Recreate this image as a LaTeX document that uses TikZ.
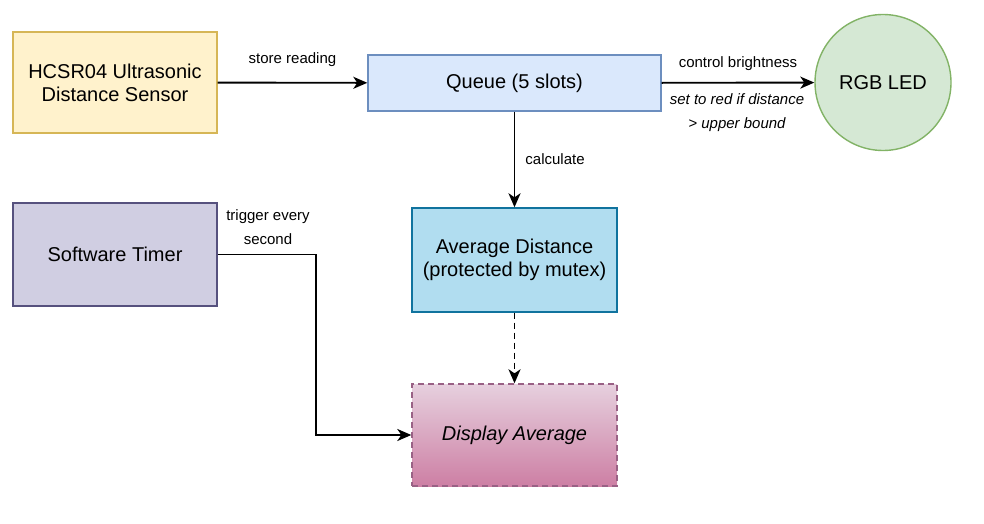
\documentclass[tikz,border=0pt]{standalone}
\usepackage{fontspec}
\setmainfont{Liberation Sans}
\usepackage{tikz}
\usetikzlibrary{arrows.meta}
\usetikzlibrary{shapes.geometric}

\definecolor{sensorfill}{HTML}{FFF2CC}
\definecolor{sensorline}{HTML}{D6B656}
\definecolor{queuefill}{HTML}{DAE8FC}
\definecolor{queueline}{HTML}{6C8EBF}
\definecolor{ledfill}{HTML}{D5E8D4}
\definecolor{ledline}{HTML}{82B366}
\definecolor{timerfill}{HTML}{D0CEE2}
\definecolor{timerline}{HTML}{56517E}
\definecolor{avgfill}{HTML}{B1DDF0}
\definecolor{avgline}{HTML}{10739E}
\definecolor{disptop}{HTML}{E6D0DE}
\definecolor{dispbottom}{HTML}{CD7FA4}
\definecolor{displine}{HTML}{996185}

\begin{document}
\begin{tikzpicture}[x=1pt, y=-1pt,
    box/.style={draw, line width=1.4pt, inner sep=0pt, align=center,
        font=\fontsize{20}{23}\selectfont},
    lbl/.style={inner sep=0pt, align=center, font=\fontsize{15}{24}\selectfont},
    flow/.style={-{Stealth[length=14pt, width=12pt, inset=4pt]}, line width=1.9pt}]

    \useasboundingbox (0,0) rectangle (984,524);

    % Nodes
    \node at (115,82.5) (sensor) [box, fill=sensorfill, draw=sensorline,
        minimum width=204pt, minimum height=101pt] {HCSR04 Ultrasonic\\Distance Sensor};
    \node at (514.5,83) (queue) [box, fill=queuefill, draw=queueline,
        minimum width=293pt, minimum height=56pt] {Queue (5 slots)};
    \node at (883,82.5) (led) [box, circle, fill=ledfill, draw=ledline,
        minimum size=136pt] {RGB LED};
    \node at (115,254.5) (timer) [box, fill=timerfill, draw=timerline,
        minimum width=204pt, minimum height=103pt] {Software Timer};
    \node at (514.5,260) (avg) [box, fill=avgfill, draw=avgline,
        minimum width=205pt, minimum height=104pt] {Average Distance\\(protected by mutex)};
    \node at (514.5,435) (disp) [box, dash pattern=on 6pt off 4pt, top color=disptop,
        bottom color=dispbottom, draw=displine, minimum width=205pt,
        minimum height=102pt] {\itshape Display Average};
    \coordinate (bend1) at (316,254.5);
    \coordinate (bend2) at (316,435);

    % Arrows
    \draw[flow] (sensor) -- (queue) node[lbl, midway, above=15pt] {store reading};
    \draw[flow] (queue) -- (led) node[lbl, midway, above=11pt] {control brightness};
    \node at (737,113) (redlbl) [lbl, font=\fontsize{15}{24}\selectfont\itshape]
        {set to red if distance\\> upper bound};
    \draw[flow] (queue) -- (avg) node[lbl, midway, right=10pt] {calculate};
    \draw[flow, dash pattern=on 6pt off 4pt] (avg) -- (disp);
    \draw[flow] (timer.east) -- (bend1) -- (bend2) -- (disp.west);
    \node at (268,227) (triglbl) [lbl] {trigger every\\second};

\end{tikzpicture}
\end{document}
